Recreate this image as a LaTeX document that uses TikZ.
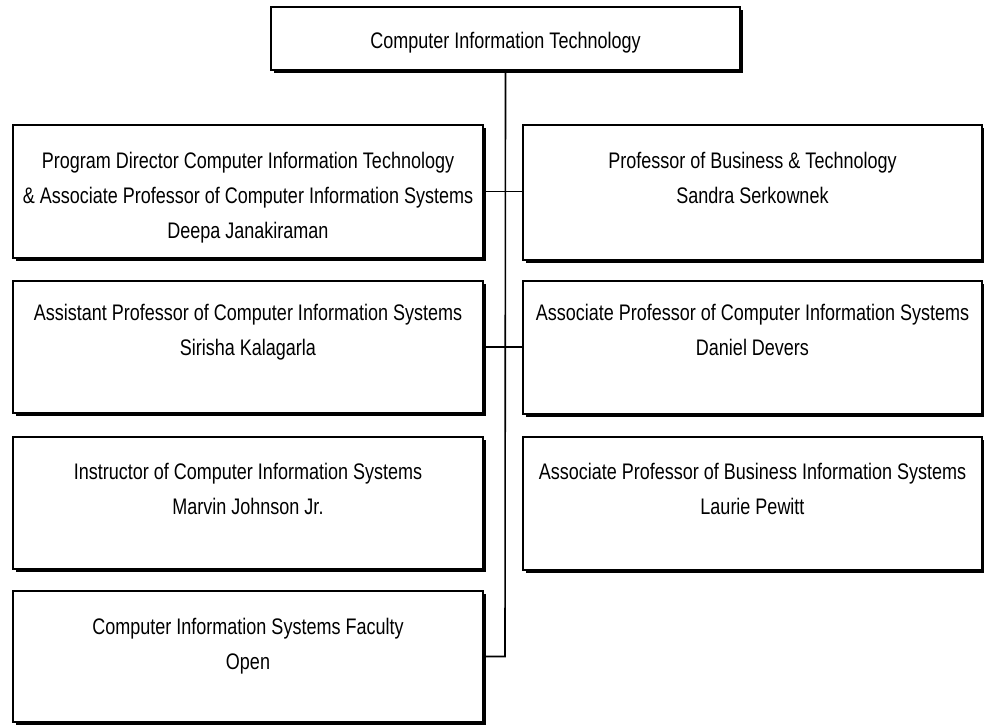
\documentclass[tikz,border=0pt]{standalone}
\usepackage{fontspec}
\setmainfont[FakeStretch=0.80]{Liberation Sans}
\usetikzlibrary{shadows,calc}
\begin{document}
\begin{tikzpicture}[x=1pt,y=-1pt,
  orgbox/.style={draw=black, line width=1.5pt, fill=white, inner sep=0pt,
    drop shadow={shadow xshift=3pt, shadow yshift=-3pt, fill=black, opacity=1}},
  txt/.style={inner sep=0pt, align=center, anchor=north, font=\fontsize{22.5}{35}\selectfont},
  link/.style={draw=black, line width=1.6pt}]
\useasboundingbox (0,0) rectangle (984,724);
% boxes
\node[orgbox, minimum width=469pt, minimum height=63pt] (top) at (505.5,38.5) {};
\node[orgbox, minimum width=470pt, minimum height=133pt] (l1) at (248,191.5) {};
\node[orgbox, minimum width=459pt, minimum height=135pt] (r1) at (752.5,192.5) {};
\node[orgbox, minimum width=470pt, minimum height=132pt] (l2) at (248,347) {};
\node[orgbox, minimum width=459pt, minimum height=133pt] (r2) at (752.5,347.5) {};
\node[orgbox, minimum width=470pt, minimum height=132pt] (l3) at (248,503) {};
\node[orgbox, minimum width=459pt, minimum height=133pt] (r3) at (752.5,503.5) {};
\node[orgbox, minimum width=470pt, minimum height=131pt] (l4) at (248,656.5) {};
% texts
\node[txt] (ttop) at ($(top.north)+(0,25.5)$) {Computer Information Technology};
\node[txt] (tl1) at ($(l1.north)+(0,27.5)$) {Program Director Computer Information Technology\\\& Associate Professor of Computer Information Systems\\Deepa Janakiraman};
\node[txt] (tr1) at ($(r1.north)+(0,27.5)$) {Professor of Business \& Technology\\Sandra Serkownek};
\node[txt] (tl2) at ($(l2.north)+(0,23.5)$) {Assistant Professor of Computer Information Systems\\Sirisha Kalagarla};
\node[txt] (tr2) at ($(r2.north)+(0,23.5)$) {Associate Professor of Computer Information Systems\\Daniel Devers};
\node[txt] (tl3) at ($(l3.north)+(0,26.5)$) {Instructor of Computer Information Systems\\Marvin Johnson Jr.};
\node[txt] (tr3) at ($(r3.north)+(0,26.5)$) {Associate Professor of Business Information Systems\\Laurie Pewitt};
\node[txt] (tl4) at ($(l4.north)+(0,27.5)$) {Computer Information Systems Faculty\\Open};
% connectors
\coordinate (trunkend) at (505,656.5);
\path[link] (top.south) -- (trunkend) -- (l4.east);
\path[link] (l1.east) -- (r1.west |- l1.east);
\path[link] (l2.east) -- (r2.west |- l2.east);
\end{tikzpicture}
\end{document}
